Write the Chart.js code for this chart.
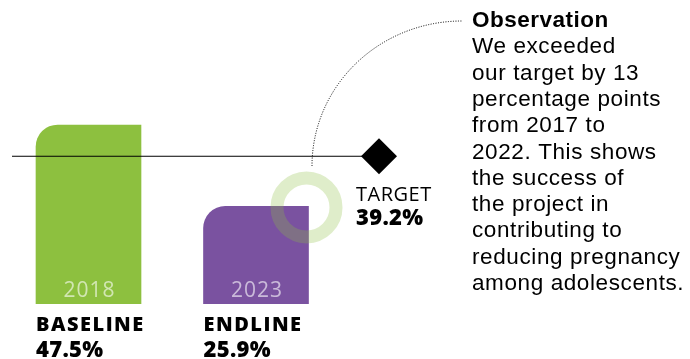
<!DOCTYPE html>
<html>
<head>
<meta charset="utf-8">
<script src="https://cdn.jsdelivr.net/npm/chart.js@4/dist/chart.umd.min.js"></script>
<style>
  html, body { margin: 0; padding: 0; background: #ffffff; }
  #wrap { width: 690px; height: 359px; position: relative; }
</style>
</head>
<body>
<div id="wrap"><canvas id="chart"></canvas></div>
<script>
const categories = ['BASELINE', 'ENDLINE'];
const years = ['2018', '2023'];
const values = [47.5, 25.9];
const valueLabels = ['47.5%', '25.9%'];
const barColors = ['#8dc03f', '#7a52a0'];
const target = 39.2;
const targetName = 'TARGET';
const targetLabel = '39.2%';
const observationTitle = 'Observation';
const observationLines = [
    'We exceeded',
    'our target by 13',
    'percentage points',
    'from 2017 to',
    '2022. This shows',
    'the success of',
    'the project in',
    'contributing to',
    'reducing pregnancy',
    'among adolescents.'
];

const labelFont = '"Open Sans", "DejaVu Sans", sans-serif';
const noteFont = '"Liberation Sans", Arial, sans-serif';

const annotations = {
    id: 'annotations',
    afterDatasetsDraw(chart) {
        const ctx = chart.ctx;
        const yScale = chart.scales.y;
        const meta = chart.getDatasetMeta(0);
        const zero = yScale.getPixelForValue(0);

        ctx.save();

        // year inside each bar, category + value under it
        meta.data.forEach((bar, i) => {
            const p = bar.getProps(['x', 'y', 'width'], true);
            const left = p.x - p.width / 2;

            ctx.fillStyle = 'rgba(255, 255, 255, 0.6)';
            ctx.font = '400 21px ' + labelFont;
            ctx.letterSpacing = '1px';
            ctx.textAlign = 'center';
            ctx.textBaseline = 'alphabetic';
            ctx.fillText(years[i], p.x + 1, zero - 7);

            ctx.fillStyle = '#000000';
            ctx.textAlign = 'left';
            ctx.letterSpacing = '1.5px';
            ctx.font = '800 20px ' + labelFont;
            ctx.fillText(categories[i], left, zero + 27);
            ctx.letterSpacing = '0.3px';
            ctx.font = '800 22px ' + labelFont;
            ctx.fillText(valueLabels[i], left, zero + 53);
        });

        // target line + diamond
        const ty = yScale.getPixelForValue(target);
        const dx = 379;
        ctx.strokeStyle = '#000000';
        ctx.lineWidth = 1;
        ctx.beginPath();
        ctx.moveTo(12, ty);
        ctx.lineTo(dx, ty);
        ctx.stroke();

        ctx.fillStyle = '#000000';
        ctx.beginPath();
        ctx.moveTo(dx, ty - 18);
        ctx.lineTo(dx + 18, ty);
        ctx.lineTo(dx, ty + 18);
        ctx.lineTo(dx - 18, ty);
        ctx.closePath();
        ctx.fill();

        ctx.textAlign = 'left';
        ctx.letterSpacing = '0.5px';
        ctx.font = '500 20px ' + labelFont;
        ctx.fillText(targetName, 356, ty + 45);
        ctx.letterSpacing = '0.3px';
        ctx.font = '800 22px ' + labelFont;
        ctx.fillText(targetLabel, 356, ty + 69);

        // ring on the endline bar corner
        const end = meta.data[1].getProps(['x', 'y', 'width'], true);
        const cx = end.x + end.width / 2 - 2;
        const cy = end.y + 1;
        ctx.strokeStyle = 'rgba(141, 192, 63, 0.28)';
        ctx.lineWidth = 13;
        ctx.beginPath();
        ctx.arc(cx, cy, 29.5, 0, Math.PI * 2);
        ctx.stroke();

        // dotted leader to the note
        ctx.strokeStyle = '#000000';
        ctx.lineWidth = 1;
        ctx.setLineDash([1, 1.5]);
        ctx.beginPath();
        ctx.ellipse(462, 166, 150, 145, 0, Math.PI, Math.PI * 1.5);
        ctx.stroke();
        ctx.setLineDash([]);

        // observation note
        ctx.fillStyle = '#000000';
        ctx.letterSpacing = '0.5px';
        ctx.font = 'bold 22.5px ' + noteFont;
        ctx.fillText(observationTitle, 472, 27);
        ctx.letterSpacing = '0.6px';
        ctx.font = '22.5px ' + noteFont;
        observationLines.forEach((line, i) => {
            ctx.fillText(line, 472, 27 + (i + 1) * 26.3);
        });

        ctx.restore();
    }
};

new Chart(document.getElementById('chart').getContext('2d'), {
    type: 'bar',
    data: {
        labels: categories,
        datasets: [
            {
                data: values,
                backgroundColor: barColors,
                barThickness: 105,
                borderSkipped: false,
                borderRadius: { topLeft: 22, topRight: 0, bottomLeft: 0, bottomRight: 0 }
            }
        ]
    },
    options: {
        responsive: true,
        maintainAspectRatio: false,
        animation: false,
        layout: {
            padding: { left: 4.75, right: 350.25, top: 2.5, bottom: 55 }
        },
        plugins: {
            legend: { display: false },
            tooltip: { enabled: false }
        },
        scales: {
            x: { display: false },
            y: { display: false, min: 0, max: 80 }
        }
    },
    plugins: [annotations]
});
</script>
</body>
</html>
